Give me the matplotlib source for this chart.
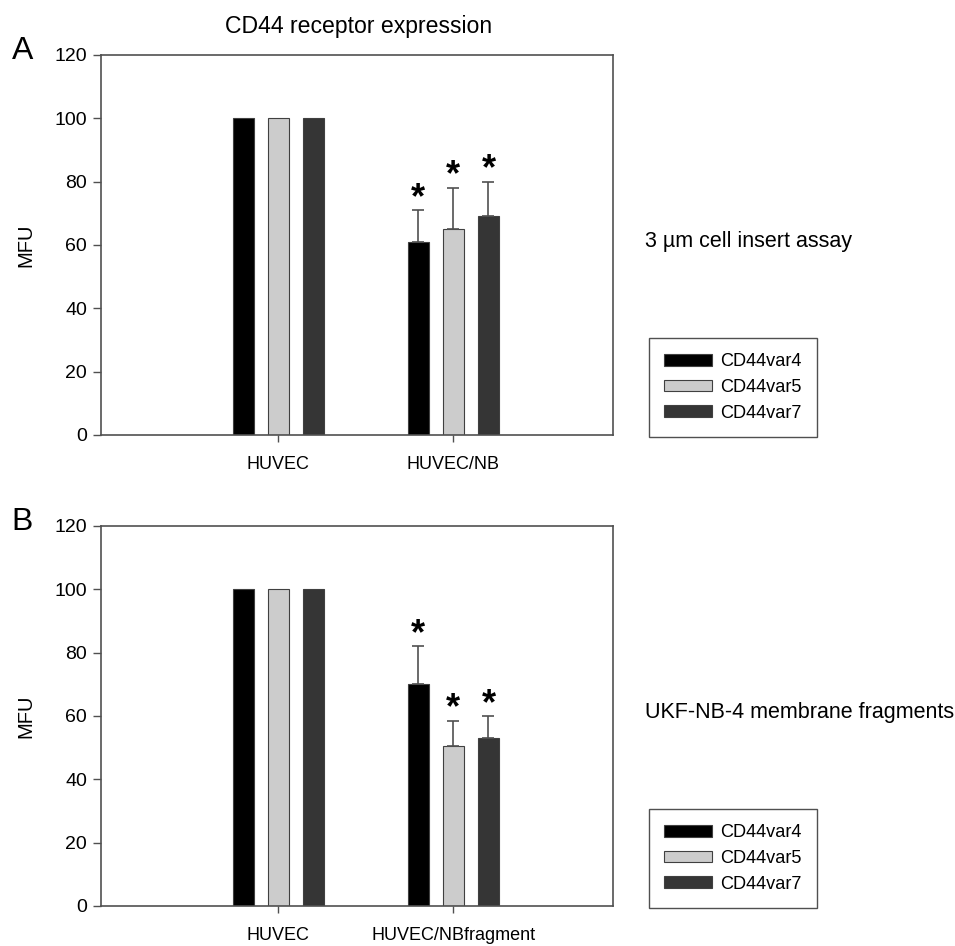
import numpy as np
import matplotlib
matplotlib.use("Agg")
from matplotlib import pyplot as plt
from matplotlib.patches import Patch

plt.rcParams['font.family'] = ['Liberation Sans', 'DejaVu Sans']

series = ["CD44var4", "CD44var5", "CD44var7"]
colors = ["#000000", "#cccccc", "#353535"]

groups_a = ["HUVEC", "HUVEC/NB"]
values_a = [[100, 61], [100, 65], [100, 69]]
errors_a = [[0, 10], [0, 13], [0, 11]]

groups_b = ["HUVEC", "HUVEC/NBfragment"]
values_b = [[100, 70], [100, 50.5], [100, 53]]
errors_b = [[0, 12], [0, 8], [0, 7]]

side_a = "3 \u00b5m cell insert assay"
side_b = "UKF-NB-4 membrane fragments"

fig = plt.figure(figsize=(9.55, 9.46), dpi=100)
ax_a = fig.add_axes([0.1058, 0.5402, 0.536, 0.4017])
ax_b = fig.add_axes([0.1058, 0.0423, 0.536, 0.4017])

spine_col = "#505050"
width = 0.12
offsets = [-0.2, 0.0, 0.2]


def draw(ax, groups, values, errors, side, letter, leg_top):
    x = np.arange(len(groups))
    for i in range(len(series)):
        v = np.array(values[i])
        e = np.array(errors[i])
        ax.bar(x + offsets[i], v, width, color=colors[i], edgecolor="#404040",
               linewidth=0.8, zorder=2)
        m = e > 0
        ax.errorbar(x[m] + offsets[i], v[m], yerr=[np.zeros(m.sum()), e[m]],
                    fmt="none", ecolor="#505050", elinewidth=1.2, capsize=4.3,
                    capthick=1.2, zorder=3)
        for xi, vi, ei in zip(x[m] + offsets[i], v[m], e[m]):
            ax.text(xi, vi + ei - 1.8, "*", ha="center", va="bottom",
                    fontsize=26, fontweight="bold")
    ax.set_xlim(-1.01, 1.91)
    ax.set_ylim(0, 120)
    ax.set_yticks(np.arange(0, 121, 20))
    ax.set_xticks(x)
    ax.set_xticklabels(groups, fontsize=13)
    ax.tick_params(axis="y", labelsize=14, direction="out", length=6,
                   color=spine_col, width=1, pad=4)
    ax.tick_params(axis="x", direction="out", length=5, color=spine_col,
                   width=1, pad=10)
    for s in ax.spines.values():
        s.set_color(spine_col)
        s.set_linewidth(1.2)
    pos = ax.get_position()
    fig.text(26 / 955, pos.y0 + pos.height * 0.5, "MFU", fontsize=14.5,
             rotation=90, va="center", ha="center")
    fig.text(0.675, pos.y0 + pos.height * 0.51, side, fontsize=15.5,
             va="center", ha="left")
    fig.text(0.012, pos.y1 + 0.004, letter, fontsize=23,
             va="center", ha="left")
    handles = [Patch(facecolor=c, edgecolor="#404040", linewidth=0.8)
               for c in colors]
    fig.legend(handles, series, loc="upper left",
               bbox_to_anchor=(649 / 955, leg_top),
               fontsize=13.1, frameon=True, fancybox=False,
               edgecolor="#505050", handlelength=2.6, handleheight=0.6,
               handletextpad=0.45, labelspacing=0.47, borderaxespad=0,
               borderpad=0.85, framealpha=1)


draw(ax_a, groups_a, values_a, errors_a, side_a, "A", 1 - 338 / 946)
draw(ax_b, groups_b, values_b, errors_b, side_b, "B", 1 - 809 / 946)
fig.text(0.375, 0.9725, "CD44 receptor expression", fontsize=16.6,
         ha="center", va="center")

fig.savefig("out.png", dpi=100)
